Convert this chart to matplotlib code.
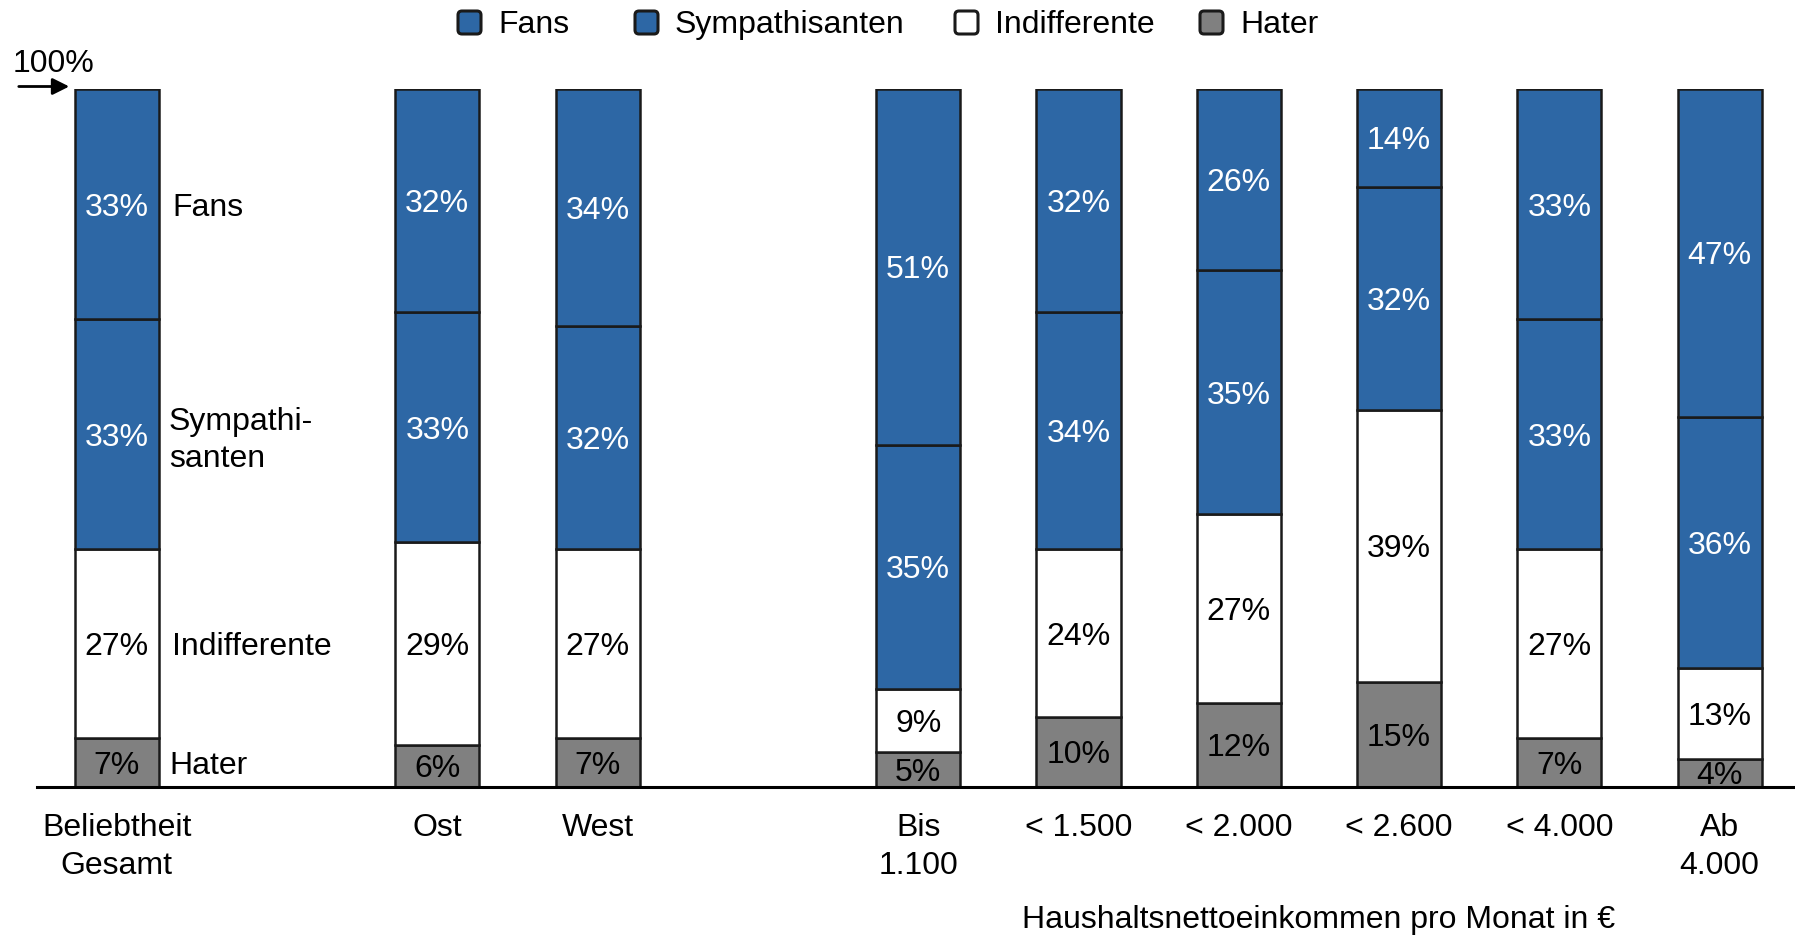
import matplotlib
matplotlib.use("Agg")
import matplotlib.pyplot as plt
from matplotlib.patches import FancyBboxPatch, FancyArrowPatch
from matplotlib.transforms import blended_transform_factory, IdentityTransform, offset_copy

# Survey shares per group (percent)
categories = ["Beliebtheit\nGesamt", "Ost", "West", "Bis\n1.100", "< 1.500",
              "< 2.000", "< 2.600", "< 4.000", "Ab\n4.000"]
slots = [0, 2, 3, 5, 6, 7, 8, 9, 10]
hater = [7, 6, 7, 5, 10, 12, 15, 7, 4]
indifferente = [27, 29, 27, 9, 24, 27, 39, 27, 13]
sympathisanten = [33, 33, 32, 35, 34, 35, 32, 33, 36]
fans = [33, 32, 34, 51, 32, 26, 14, 33, 47]

series_names = ["Hater", "Indifferente", "Sympathisanten", "Fans"]
series_values = [hater, indifferente, sympathisanten, fans]
series_colors = ["#808080", "#ffffff", "#2d67a5", "#2d67a5"]
text_colors = ["black", "black", "white", "white"]

legend_names = ["Fans", "Sympathisanten", "Indifferente", "Hater"]
legend_colors = ["#2d67a5", "#2d67a5", "#ffffff", "#808080"]

plt.rcParams["font.family"] = ["Liberation Sans", "DejaVu Sans"]
FS = 23
EDGE = "#1a1a1a"

W, H = 1795.0, 936.0
fig = plt.figure(figsize=(W / 100, H / 100), dpi=100)
ax = fig.add_axes([36.6 / W, (H - 786.5) / H, 1 - 36.6 / W, (786.5 - 89) / H])
ax.set_xlim(-0.5, 10.47)
ax.set_ylim(0, 100)
ax.axis("off")

# labels sit a few pixels below the geometric centre
lab_tr = offset_copy(ax.transData, fig=fig, x=0, y=-3.5, units="dots")

bw = 0.525
bottoms = [0] * len(slots)
for name, vals, col, tcol in zip(series_names, series_values, series_colors, text_colors):
    ax.bar(slots, vals, bw, bottom=bottoms, color=col, edgecolor=EDGE,
           linewidth=1.8, zorder=2)
    for x, v, b in zip(slots, vals, bottoms):
        ax.text(x, b + v / 2, f"{v}%", ha="center", va="center", fontsize=FS,
                color=tcol, zorder=3, transform=lab_tr)
    bottoms = [b + v for b, v in zip(bottoms, vals)]

# baseline
ax.plot([-0.5, 10.47], [0, 0], color="black", lw=2.2, clip_on=False, zorder=4)

# segment names beside the first bar
cum = 0
side = {"Hater": ("Hater", 0.33, -3.5), "Indifferente": ("Indifferente", 0.345, -3.5),
        "Sympathisanten": ("Sympathi-\nsanten", 0.325, -6.5),
        "Fans": ("Fans", 0.345, -3.5)}
for name, vals in zip(series_names, series_values):
    v = vals[0]
    lab, xo, dy = side[name]
    ax.text(slots[0] + xo, cum + v / 2, lab, ha="left", va="center", fontsize=FS,
            linespacing=1.3,
            transform=offset_copy(ax.transData, fig=fig, x=0, y=dy, units="dots"))
    cum += v

# category labels under the bars
tr = blended_transform_factory(ax.transData, fig.transFigure)
for x, c in zip(slots, categories):
    ax.text(x, 1 - 813 / H, c, ha="center", va="top", fontsize=FS, transform=tr,
            linespacing=1.33, clip_on=False)

ax.text(7.5, 1 - 920 / H, "Haushaltsnettoeinkommen pro Monat in €", ha="center",
        va="center", fontsize=FS, transform=tr)

# 100% marker
fig.text(13 / W, 1 - 64 / H, "100%", ha="left", va="center", fontsize=FS)
fig.add_artist(FancyArrowPatch(
    (16 / W, 1 - 86.5 / H), (72 / W, 1 - 86.5 / H), transform=fig.transFigure,
    arrowstyle="-|>,head_length=10,head_width=5", color="black", lw=2,
    mutation_scale=1))

# legend row with rounded swatches
leg_left = [457, 634, 954, 1199]
sw = 25
yc = 22.5
for lx, name, col in zip(leg_left, legend_names, legend_colors):
    fig.add_artist(FancyBboxPatch((lx + 1, H - yc - sw / 2 + 1), sw - 2, sw - 2,
                                  boxstyle="round,pad=0,rounding_size=4",
                                  fc=col, ec=EDGE, lw=2.2,
                                  transform=IdentityTransform()))
    fig.text((lx + 41) / W, 1 - (yc + 2.5) / H, name, ha="left", va="center",
             fontsize=FS)

fig.savefig("out.png", dpi=100)
